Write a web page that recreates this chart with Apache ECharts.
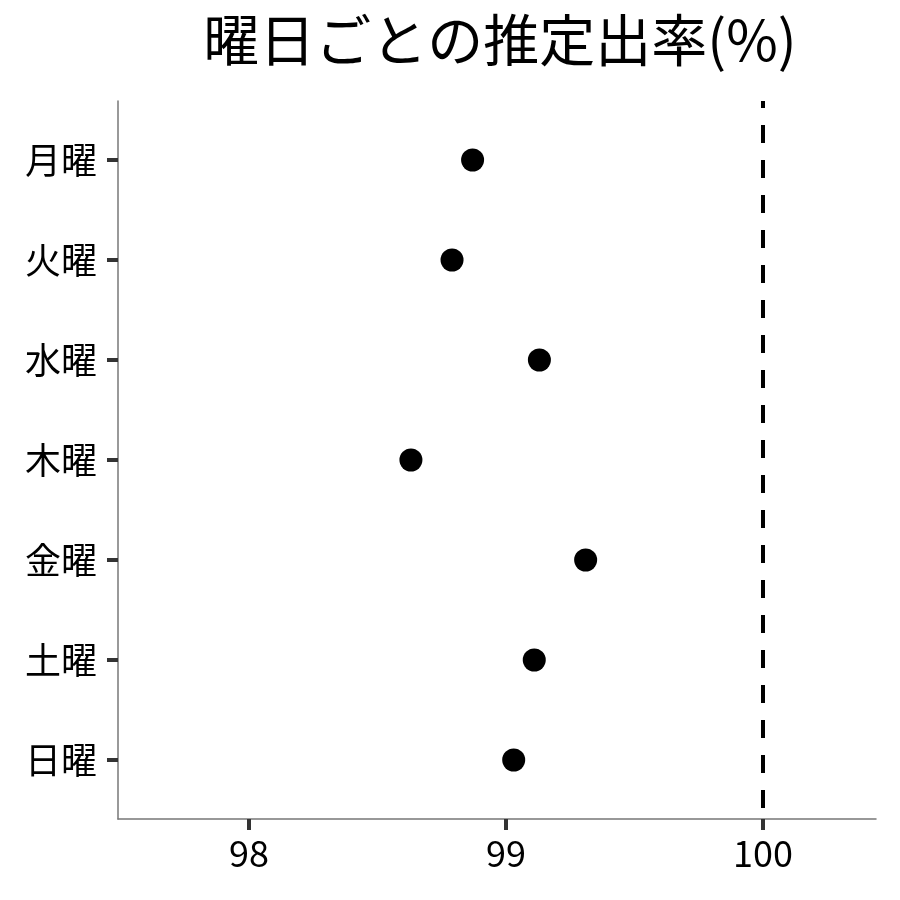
<!DOCTYPE html>
<html><head><meta charset="utf-8">
<script src="https://cdn.jsdelivr.net/npm/echarts@6/dist/echarts.min.js"></script>
<style>html,body{margin:0;padding:0;background:#fff}#c{width:900px;height:900px}</style>
</head><body><div id="c"></div>
<script>
const days = ['月曜','火曜','水曜','木曜','金曜','土曜','日曜'];
const rates = [98.87, 98.79, 99.13, 98.63, 99.31, 99.11, 99.03];
const xTicks = [98, 99, 100];
const refValue = 100;
const FONT = '"Noto Sans CJK JP", "Noto Sans", sans-serif';

const chart = echarts.init(document.getElementById('c'));
chart.setOption({
  animation: false,
  backgroundColor: '#fff',
  title: {
    text: '曜日ごとの推定出率(%)',
    left: 495, top: 7, textAlign: 'center',
    textStyle: { fontFamily: FONT, fontSize: 56, fontWeight: 'normal', color: '#000' }
  },
  grid: { left: 118, right: 24, top: 101, bottom: 81 },
  xAxis: {
    type: 'value', min: 97.49, max: 100.44,
    splitLine: { show: false },
    axisLine: { show: true, onZero: false, lineStyle: { color: '#777', width: 1.5 } },
    axisTick: { show: true, customValues: xTicks, length: 11, lineStyle: { color: '#333', width: 4 } },
    axisLabel: { customValues: xTicks, margin: 16, fontFamily: FONT, fontSize: 36, color: '#000' }
  },
  yAxis: {
    type: 'value', inverse: true, min: -0.59, max: days.length - 1 + 0.59,
    splitLine: { show: false },
    axisLine: { show: true, onZero: false, lineStyle: { color: '#777', width: 1.5 } },
    axisTick: { show: true, customValues: days.map((d, i) => i), length: 11, lineStyle: { color: '#333', width: 4 } },
    axisLabel: { customValues: days.map((d, i) => i), margin: 21, fontFamily: FONT, fontSize: 36, color: '#000',
      formatter: v => days[Math.round(v)] }
  },
  series: [{
    type: 'scatter',
    symbolSize: 23,
    itemStyle: { color: '#000', opacity: 1 },
    data: rates.map((r, i) => [r, i]),
    markLine: {
      silent: true, symbol: 'none', label: { show: false },
      lineStyle: { color: '#000', type: [18, 17], dashOffset: 11, width: 4 },
      data: [{ xAxis: refValue }]
    }
  }]
});
</script></body></html>
